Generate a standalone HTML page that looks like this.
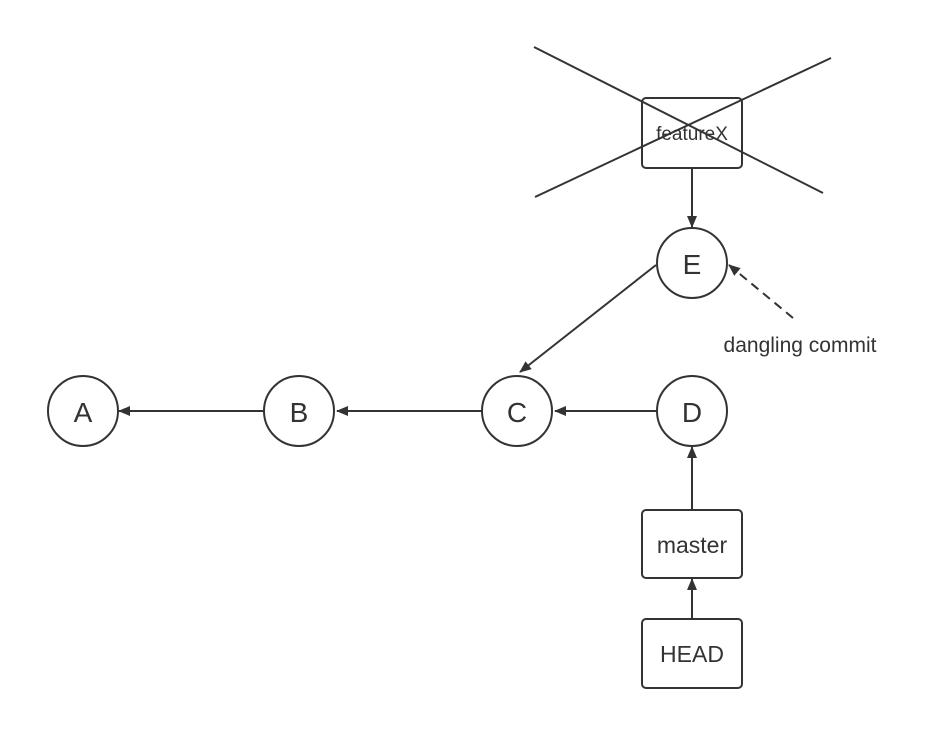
<!DOCTYPE html>
<html><head><meta charset="utf-8"><style>body{margin:0;background:#fff}svg{display:block}</style></head>
<body>
<svg width="942" height="749" viewBox="0 0 942 749" xmlns="http://www.w3.org/2000/svg">
<defs>
<marker id="a" markerWidth="12" markerHeight="12" refX="11" refY="6" orient="auto" markerUnits="userSpaceOnUse">
<path d="M0,1 L12,6 L0,11 Z" fill="#333"/></marker>
</defs>
<g fill="none" stroke="#333" stroke-width="2">
<circle cx="83" cy="411" r="35"/>
<circle cx="299" cy="411" r="35"/>
<circle cx="517" cy="411" r="35"/>
<circle cx="692" cy="411" r="35"/>
<circle cx="692" cy="263" r="35"/>
<rect x="642" y="98" width="100" height="70" rx="4"/>
<rect x="642" y="510" width="100" height="68" rx="4"/>
<rect x="642" y="619" width="100" height="69" rx="4"/>
<line x1="534" y1="47" x2="823" y2="193"/>
<line x1="535" y1="197" x2="831" y2="58"/>
<line x1="264" y1="411" x2="119" y2="411" marker-end="url(#a)"/>
<line x1="482" y1="411" x2="337" y2="411" marker-end="url(#a)"/>
<line x1="657" y1="411" x2="555" y2="411" marker-end="url(#a)"/>
<line x1="656" y1="265" x2="520" y2="372" marker-end="url(#a)"/>
<line x1="692" y1="168" x2="692" y2="227" marker-end="url(#a)"/>
<line x1="692" y1="510" x2="692" y2="447" marker-end="url(#a)"/>
<line x1="692" y1="619" x2="692" y2="579" marker-end="url(#a)"/>
<line x1="793" y1="318" x2="729" y2="265" stroke-dasharray="9,6" marker-end="url(#a)"/>
</g>
<g font-family="'Liberation Sans',sans-serif" fill="#333" text-anchor="middle">
<text x="83" y="422" font-size="28">A</text>
<text x="299" y="422" font-size="28">B</text>
<text x="517" y="422" font-size="28">C</text>
<text x="692" y="422" font-size="28">D</text>
<text x="692" y="274" font-size="28">E</text>
<text x="692" y="140" font-size="19">featureX</text>
<text x="692" y="553" font-size="23">master</text>
<text x="692" y="662" font-size="23">HEAD</text>
<text x="800" y="352" font-size="21">dangling commit</text>
</g>
</svg>
</body></html>
